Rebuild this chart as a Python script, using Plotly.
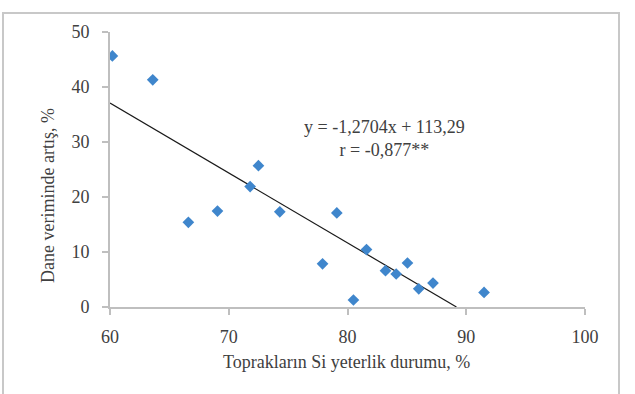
import plotly.graph_objects as go

si_status = [60.2, 63.6, 66.6, 69.05, 71.8, 72.5, 74.3, 77.9, 79.1, 80.5, 81.6, 83.2, 84.1, 85.05, 86.0, 87.2, 91.5]
yield_increase = [45.65, 41.3, 15.4, 17.45, 21.9, 25.7, 17.3, 7.85, 17.1, 1.27, 10.45, 6.6, 6.0, 8.0, 3.3, 4.35, 2.65]

slope = -1.2704
intercept = 113.29
trend_x = [60, -intercept / slope]
trend_y = [slope * x + intercept for x in trend_x]

x_ticks = [60, 70, 80, 90, 100]
y_ticks = [0, 10, 20, 30, 40, 50]

FONT = "Liberation Serif"
TXT = "#404040"
AX = "#bfbfbf"
FS = 18

W, H = 635, 394
ML, MR, MT, MB = 110, 50, 32, 87
PW = W - ML - MR
PH = H - MT - MB


def px_x(p):
    return (p - ML) / PW


def px_y(p):
    return (H - MB - p) / PH


fig = go.Figure()
fig.add_trace(go.Scatter(x=trend_x, y=trend_y, mode="lines",
                         line=dict(color="#1a1a1a", width=1.2), hoverinfo="skip"))
fig.add_trace(go.Scatter(x=si_status, y=yield_increase, mode="markers",
                         marker=dict(symbol="diamond", size=9, color="#3f86cc")))

fig.update_layout(
    width=W, height=H,
    margin=dict(l=ML, r=MR, t=MT, b=MB),
    paper_bgcolor="white", plot_bgcolor="white",
    showlegend=False,
    font=dict(family=FONT, color=TXT, size=FS),
    xaxis=dict(range=[60, 100], tickvals=x_ticks, showgrid=False, zeroline=False,
               showline=True, linecolor=AX, linewidth=2, ticks="outside",
               tickcolor=AX, ticklen=6, tickwidth=1.5, ticklabelstandoff=6,
               tickfont=dict(family=FONT, size=FS, color=TXT)),
    yaxis=dict(range=[0, 50], tickvals=y_ticks, showgrid=False, zeroline=False,
               showline=True, linecolor=AX, linewidth=2, ticks="outside",
               tickcolor=AX, ticklen=6, tickwidth=1.5, ticklabelstandoff=9,
               tickfont=dict(family=FONT, size=FS, color=TXT)),
)

# axis titles
fig.add_annotation(x=px_x(48), y=px_y(196), xref="paper", yref="paper",
                   text="Dane veriminde artış, %", showarrow=False, textangle=-90,
                   xanchor="center", yanchor="middle",
                   font=dict(family=FONT, size=FS, color=TXT))
fig.add_annotation(x=px_x(346), y=px_y(362), xref="paper", yref="paper",
                   text="Toprakların Si yeterlik durumu, %", showarrow=False,
                   xanchor="center", yanchor="middle",
                   font=dict(family=FONT, size=FS, color=TXT))

# equation
fig.add_annotation(x=px_x(384), y=px_y(138), xref="paper", yref="paper",
                   text="y = -1,2704x + 113,29<br>r = -0,877**",
                   showarrow=False, align="center", xanchor="center", yanchor="middle",
                   font=dict(family=FONT, size=FS, color=TXT))

# outer frame
fig.add_shape(type="rect", xref="paper", yref="paper",
              x0=px_x(3), x1=px_x(619), y0=px_y(400), y1=px_y(13),
              line=dict(color="#c8c8c8", width=2), layer="below")

fig.write_html("out.html")
